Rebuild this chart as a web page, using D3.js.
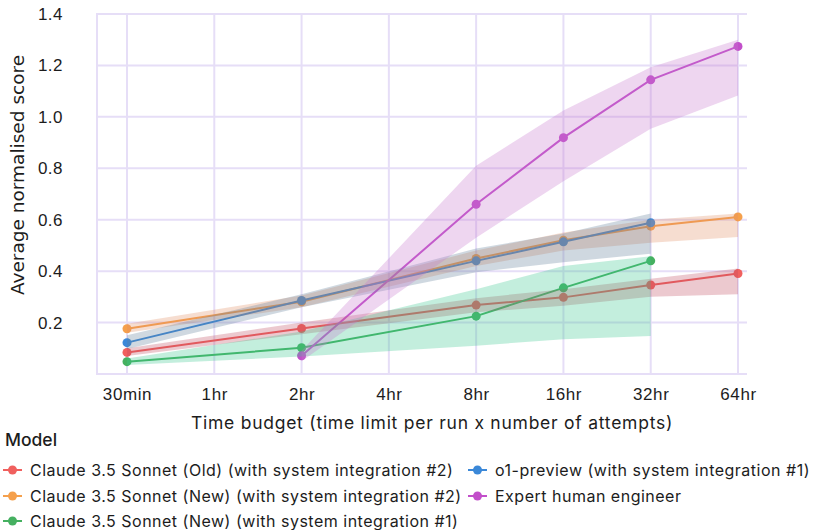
<!DOCTYPE html>
<html>
<head>
<meta charset="utf-8">
<script src="https://cdn.jsdelivr.net/npm/d3@7"></script>
<style>
  html, body { margin: 0; padding: 0; background: #ffffff; }
  svg { display: block; font-family: "Inter", "Open Sans", sans-serif; }
</style>
</head>
<body>
<svg id="chart" width="813" height="530"></svg>
<script>
// Time budgets on the x axis
const timeLabels = ["30min", "1hr", "2hr", "4hr", "8hr", "16hr", "32hr", "64hr"];
const yTicks = [0.2, 0.4, 0.6, 0.8, 1.0, 1.2, 1.4];

// Claude 3.5 Sonnet (Old) (with system integration #2)
const oldX = ["30min", "2hr", "8hr", "16hr", "32hr", "64hr"];
const oldScore = [0.084, 0.177, 0.268, 0.298, 0.346, 0.391];
const oldLow = [0.070, 0.155, 0.240, 0.265, 0.300, 0.310];
const oldHigh = [0.100, 0.200, 0.295, 0.330, 0.370, 0.410];

// Claude 3.5 Sonnet (New) (with system integration #2)
const newX = ["30min", "2hr", "8hr", "16hr", "32hr", "64hr"];
const newScore = [0.176, 0.281, 0.449, 0.520, 0.575, 0.611];
const newLow = [0.160, 0.260, 0.420, 0.480, 0.510, 0.533];
const newHigh = [0.195, 0.305, 0.480, 0.550, 0.600, 0.624];

// Claude 3.5 Sonnet (New) (with system integration #1)
const new1X = ["30min", "2hr", "8hr", "16hr", "32hr"];
const new1Score = [0.048, 0.102, 0.225, 0.335, 0.440];
const new1Low = [0.035, 0.068, 0.110, 0.135, 0.148];
const new1High = [0.060, 0.165, 0.330, 0.420, 0.458];

// o1-preview (with system integration #1)
const o1X = ["30min", "2hr", "8hr", "16hr", "32hr"];
const o1Score = [0.122, 0.286, 0.440, 0.514, 0.588];
const o1Low = [0.097, 0.260, 0.396, 0.435, 0.468];
const o1High = [0.151, 0.310, 0.488, 0.546, 0.624];

// Expert human engineer
const humanX = ["2hr", "8hr", "16hr", "32hr", "64hr"];
const humanScore = [0.071, 0.660, 0.919, 1.144, 1.274];
const humanLow = [0.050, 0.530, 0.750, 0.954, 1.083];
const humanHigh = [0.090, 0.810, 1.025, 1.193, 1.300];

const seriesNames = [
  "Claude 3.5 Sonnet (Old) (with system integration #2)",
  "Claude 3.5 Sonnet (New) (with system integration #2)",
  "Claude 3.5 Sonnet (New) (with system integration #1)",
  "o1-preview (with system integration #1)",
  "Expert human engineer"
];
const lineColors = ["#f0605e", "#f5a04c", "#45b060", "#3b88d8", "#c24fca"];
// translucent band tints, one per series
const bandColors = ["#c04b5f", "#e18e62", "#37c68e", "#5f7d98", "#c676cd"];

const series = [
  { x: oldX, y: oldScore, lo: oldLow, hi: oldHigh },
  { x: newX, y: newScore, lo: newLow, hi: newHigh },
  { x: new1X, y: new1Score, lo: new1Low, hi: new1High },
  { x: o1X, y: o1Score, lo: o1Low, hi: o1High },
  { x: humanX, y: humanScore, lo: humanLow, hi: humanHigh }
].map((s, i) => ({
  name: seriesNames[i],
  color: lineColors[i],
  band: bandColors[i],
  points: s.x.map((t, j) => ({ t, v: s.y[j], lo: s.lo[j], hi: s.hi[j] }))
}));

const svg = d3.select("#chart");
const frame = { left: 97, right: 747, top: 14, bottom: 374 };

const x = d3.scalePoint().domain(timeLabels).range([127, 738]);
const y = d3.scaleLinear().domain([0, 1.4]).range([frame.bottom, frame.top]);

const gridColor = "#e6def7";
const textColor = "#1c1c1c";

// Grid
const grid = svg.append("g");
grid.selectAll("line.v").data(timeLabels).join("line")
  .attr("x1", d => x(d)).attr("x2", d => x(d))
  .attr("y1", frame.top).attr("y2", frame.bottom)
  .attr("stroke", gridColor).attr("stroke-width", 2);
grid.selectAll("line.h").data(yTicks).join("line")
  .attr("x1", frame.left).attr("x2", frame.right)
  .attr("y1", d => y(d)).attr("y2", d => y(d))
  .attr("stroke", gridColor).attr("stroke-width", 2);
grid.append("line")
  .attr("x1", frame.left).attr("x2", frame.left)
  .attr("y1", frame.top - 1).attr("y2", frame.bottom + 1)
  .attr("stroke", gridColor).attr("stroke-width", 2);
grid.append("line")
  .attr("x1", frame.left).attr("x2", frame.right)
  .attr("y1", frame.bottom).attr("y2", frame.bottom)
  .attr("stroke", gridColor).attr("stroke-width", 2);

// Axes (labels only)
const xAxis = svg.append("g")
  .attr("transform", `translate(0,${frame.bottom + 14})`)
  .call(d3.axisBottom(x).tickSize(0).tickPadding(0));
xAxis.select(".domain").remove();
xAxis.selectAll("text").attr("font-size", 17).attr("letter-spacing", 0.6)
  .attr("fill", textColor).attr("dy", "0.71em");

const yAxis = svg.append("g")
  .attr("transform", `translate(38,0)`)
  .call(d3.axisLeft(y).tickValues(yTicks).tickFormat(d3.format(".1f")).tickSize(0).tickPadding(0));
yAxis.select(".domain").remove();
yAxis.selectAll("text").attr("font-size", 17).attr("letter-spacing", 0.4)
  .attr("fill", textColor).attr("text-anchor", "start");

svg.append("text")
  .attr("x", 432).attr("y", 429)
  .attr("text-anchor", "middle").attr("font-size", 17.5).attr("letter-spacing", 0.75)
  .attr("fill", textColor)
  .text("Time budget (time limit per run x number of attempts)");

svg.append("text")
  .attr("transform", `translate(24,175) rotate(-90)`)
  .attr("text-anchor", "middle").attr("font-family", "DejaVu Sans")
  .attr("font-size", 18.5).attr("fill", textColor)
  .text("Average normalised score");

// Lines and markers
const line = d3.line().x(d => x(d.t)).y(d => y(d.v));
const marks = svg.append("g").selectAll("g").data(series).join("g");
marks.append("path")
  .attr("d", s => line(s.points))
  .attr("fill", "none").attr("stroke", s => s.color).attr("stroke-width", 2);
marks.selectAll("circle").data(s => s.points.map(p => ({ ...p, color: s.color }))).join("circle")
  .attr("cx", d => x(d.t)).attr("cy", d => y(d.v)).attr("r", 4.5)
  .attr("fill", d => d.color);

// Uncertainty bands, laid over the lines
const area = d3.area()
  .x(d => x(d.t)).y0(d => y(d.lo)).y1(d => y(d.hi));
svg.append("g").selectAll("path").data(series).join("path")
  .attr("d", s => area(s.points))
  .attr("fill", s => s.band).attr("fill-opacity", 0.3);

// Legend
svg.append("text").attr("x", 5).attr("y", 446)
  .attr("font-size", 17.5).attr("font-weight", 500).attr("fill", textColor).text("Model");

const legendPos = [
  { x: 3, y: 470 }, { x: 3, y: 496 }, { x: 3, y: 521 },
  { x: 468, y: 470 }, { x: 468, y: 496 }
];
const leg = svg.append("g").selectAll("g").data(series).join("g")
  .attr("transform", (s, i) => `translate(${legendPos[i].x},${legendPos[i].y})`);
leg.append("line").attr("x1", 0).attr("x2", 19).attr("y1", 0).attr("y2", 0)
  .attr("stroke", s => s.color).attr("stroke-width", 2);
leg.append("circle").attr("cx", 9.5).attr("cy", 0).attr("r", 4.5).attr("fill", s => s.color);
leg.append("text").attr("x", 27).attr("y", 0).attr("dy", "0.35em")
  .attr("font-size", 16).attr("letter-spacing", 0.5).attr("fill", textColor).text(s => s.name);
</script>
</body>
</html>
